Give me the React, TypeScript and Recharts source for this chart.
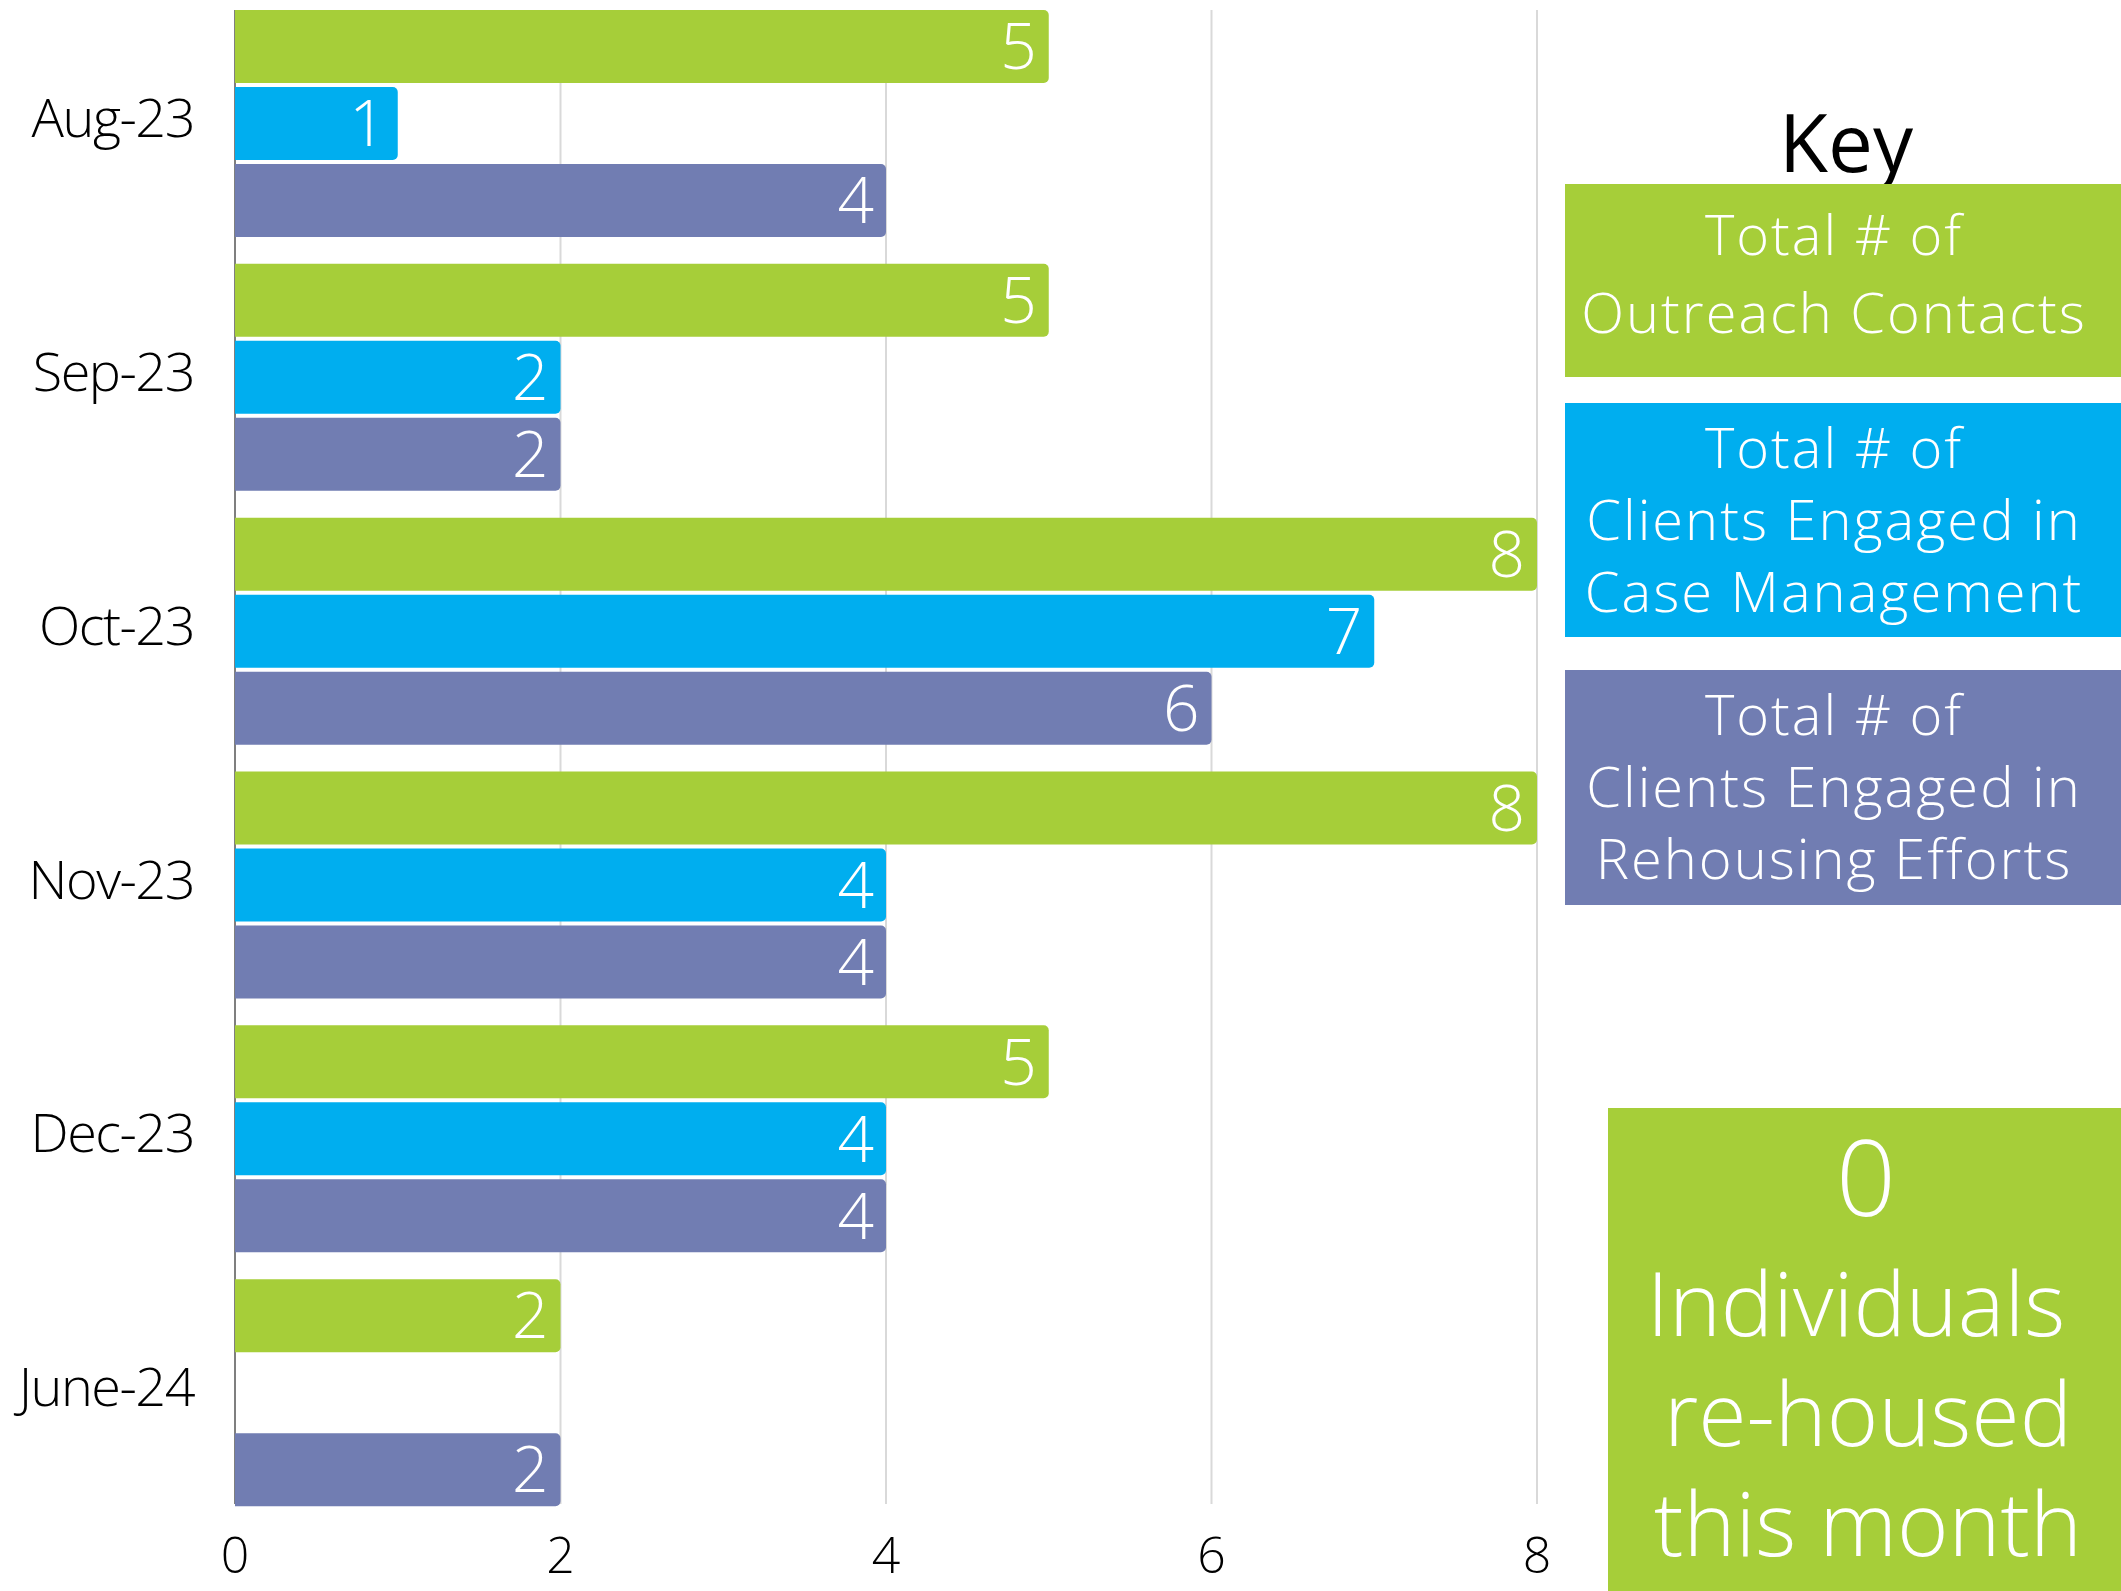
import { BarChart, Bar, XAxis, YAxis, CartesianGrid, LabelList } from 'recharts'

// monthly counts
const months = ['Aug-23', 'Sep-23', 'Oct-23', 'Nov-23', 'Dec-23', 'June-24']
const outreach = [5, 5, 8, 8, 5, 2]
const caseMgmt: (number | null)[] = [1, 2, 7, 4, 4, null]
const rehousing = [4, 2, 6, 4, 4, 2]
const xTicks = [0, 2, 4, 6, 8]

const keyTitle = 'Key'
const keyOutreach = ['Total # of', 'Outreach Contacts']
const keyCase = ['Total # of', 'Clients Engaged in', 'Case Management']
const keyRehousing = ['Total # of', 'Clients Engaged in', 'Rehousing Efforts']
const rehousedCount = 0
const rehousedLines = ['Individuals', 're-housed', 'this month']

const GREEN = '#A6CE39'
const BLUE = '#00AEEF'
const PURPLE = '#717DB2'
const FONT = '"Open Sans", "DejaVu Sans", sans-serif'

const data = months.map((m, i) => ({
  month: m,
  outreach: outreach[i],
  caseMgmt: caseMgmt[i],
  rehousing: rehousing[i],
}))

function KeyBox({ lines, color, top, height, lineHeight, padTop }: {
  lines: string[]; color: string; top: number; height: number; lineHeight: number; padTop: number
}) {
  return (
    <div style={{ position: 'absolute', left: 1565, top, width: 556, height, background: color }}>
      <div style={{ width: 538, paddingTop: padTop, textAlign: 'center', color: '#fff', fontFamily: FONT, fontSize: 56, fontWeight: 300, letterSpacing: 2 }}>
        {lines.map((l, i) => (
          <div key={i} style={{ lineHeight: `${lineHeight}px`, whiteSpace: 'nowrap' }}>{l}</div>
        ))}
      </div>
    </div>
  )
}

export default function App() {
  const labelStyle = { fill: '#fff', fontSize: 64, fontFamily: FONT, fontWeight: 300 }
  return (
    <div style={{ position: 'absolute', left: 0, top: 0, width: 2121, height: 1591, background: '#fff', overflow: 'hidden' }}>
      <BarChart
        layout="vertical"
        width={1560}
        height={1591}
        data={data}
        margin={{ top: -3, right: 23, left: 0, bottom: 0 }}
        barSize={73}
        barGap={4}
      >
        <CartesianGrid horizontal={false} stroke="#d9d9d9" strokeWidth={2} y={10} height={1494} />
        <CartesianGrid
          horizontal={false}
          stroke="#7f7f7f"
          strokeWidth={2}
          y={10}
          height={1494}
          verticalCoordinatesGenerator={(p: any) => [p?.offset?.left ?? 235]}
        />
        <XAxis
          type="number"
          domain={[0, 8]}
          ticks={xTicks}
          axisLine={false}
          tickLine={false}
          tickSize={6}
          tickMargin={11}
          height={71}
          tick={{ fill: '#000', fontSize: 50, fontFamily: FONT, fontWeight: 300 }}
        />
        <YAxis
          type="category"
          dataKey="month"
          width={235}
          axisLine={false}
          tickLine={false}
          tickSize={6}
          tickMargin={35}
          tick={{ fill: '#000', fontSize: 54, fontFamily: FONT, fontWeight: 300, letterSpacing: -1.5, dy: -6 }}
        />
        <Bar dataKey="outreach" fill={GREEN} radius={[0, 5, 5, 0]} isAnimationActive={false}>
          <LabelList dataKey="outreach" position="insideRight" offset={12} {...labelStyle} />
        </Bar>
        <Bar dataKey="caseMgmt" fill={BLUE} radius={[0, 5, 5, 0]} isAnimationActive={false}>
          <LabelList dataKey="caseMgmt" position="insideRight" offset={12} {...labelStyle} />
        </Bar>
        <Bar dataKey="rehousing" fill={PURPLE} radius={[0, 5, 5, 0]} isAnimationActive={false}>
          <LabelList dataKey="rehousing" position="insideRight" offset={12} {...labelStyle} />
        </Bar>
      </BarChart>

      <div style={{ position: 'absolute', left: 1746, top: 101, width: 200, height: 80, lineHeight: '80px', textAlign: 'center', fontFamily: FONT, fontSize: 80, fontWeight: 500, color: '#000' }}>
        {keyTitle}
      </div>
      <KeyBox lines={keyOutreach} color={GREEN} top={184} height={193} lineHeight={78} padTop={10} />
      <KeyBox lines={keyCase} color={BLUE} top={403} height={234} lineHeight={72} padTop={7} />
      <KeyBox lines={keyRehousing} color={PURPLE} top={670} height={235} lineHeight={72} padTop={7} />

      <div style={{ position: 'absolute', left: 1608, top: 1108, width: 513, height: 483, background: GREEN, color: '#fff', fontFamily: FONT, fontWeight: 300, textAlign: 'center' }}>
        <div style={{ width: 516, marginTop: 8, fontSize: 105, lineHeight: '120px' }}>{rehousedCount}</div>
        <div style={{ width: 496, marginTop: 11, fontSize: 88, lineHeight: '110px' }}>
          {rehousedLines.map((l, i) => (
            <div key={i} style={{ whiteSpace: 'nowrap', paddingLeft: i === 0 ? 0 : 24 }}>{l}</div>
          ))}
        </div>
      </div>
    </div>
  )
}
